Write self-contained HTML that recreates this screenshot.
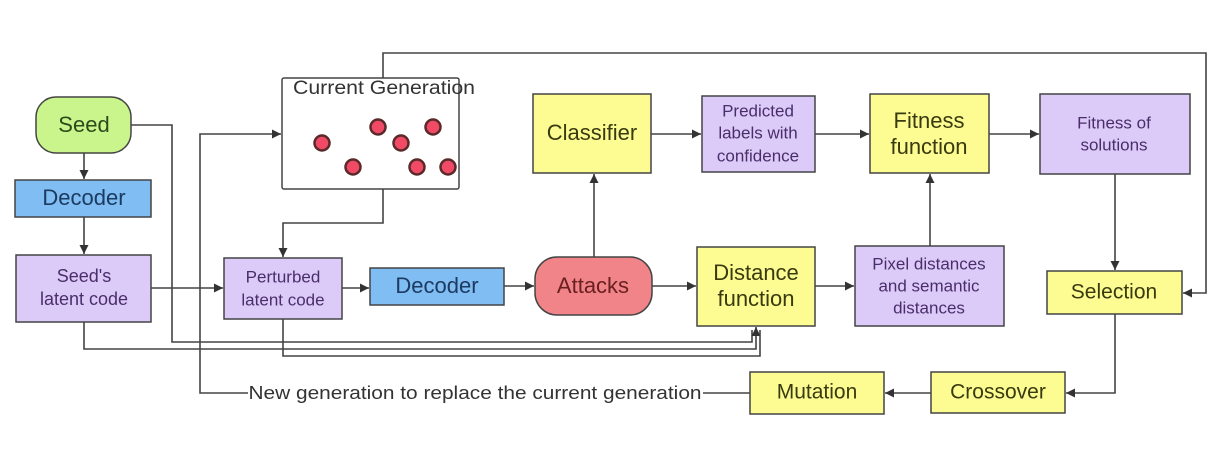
<!DOCTYPE html>
<html><head><meta charset="utf-8"><style>
html,body{margin:0;padding:0;background:#fff;}
svg{display:block;}
text{font-family:"Liberation Sans",sans-serif;text-anchor:middle;dominant-baseline:middle;}
</style></head><body>
<svg width="1225" height="473" viewBox="0 0 1225 473" xmlns="http://www.w3.org/2000/svg">
<defs>
<marker id="a" viewBox="0 0 10 10" refX="10" refY="5" markerWidth="9" markerHeight="9" orient="auto" markerUnits="userSpaceOnUse"><path d="M0,0 L10,5 L0,10 z" fill="#333"/></marker>
</defs>
<g fill="none" stroke="#444" stroke-width="1.6">
<polyline points="383,78 383,53 1206,53 1206,293 1183,293" marker-end="url(#a)"/>
<line x1="84" y1="153" x2="84" y2="179" marker-end="url(#a)"/>
<line x1="84" y1="217" x2="84" y2="254" marker-end="url(#a)"/>
<line x1="151" y1="288" x2="223" y2="288" marker-end="url(#a)"/>
<line x1="342" y1="288" x2="369" y2="288" marker-end="url(#a)"/>
<line x1="504" y1="286" x2="534" y2="286" marker-end="url(#a)"/>
<line x1="652" y1="286" x2="696" y2="286" marker-end="url(#a)"/>
<line x1="815" y1="286" x2="854" y2="286" marker-end="url(#a)"/>
<polyline points="383,189 383,223 283,223 283,257" marker-end="url(#a)"/>
<line x1="594" y1="257" x2="594" y2="174" marker-end="url(#a)"/>
<line x1="930" y1="246" x2="930" y2="174" marker-end="url(#a)"/>
<line x1="651" y1="134" x2="701" y2="134" marker-end="url(#a)"/>
<line x1="815" y1="134" x2="869" y2="134" marker-end="url(#a)"/>
<line x1="989" y1="134" x2="1039" y2="134" marker-end="url(#a)"/>
<line x1="1115" y1="174" x2="1115" y2="270" marker-end="url(#a)"/>
<polyline points="1115,314 1115,393 1066,393" marker-end="url(#a)"/>
<line x1="931" y1="393" x2="885" y2="393" marker-end="url(#a)"/>
<line x1="750" y1="393" x2="703" y2="393"/>
<polyline points="248,393 200,393 200,134 281,134" marker-end="url(#a)"/>
<polyline points="131,125 172,125 172,342 752,342 752,330"/>
<polyline points="84,322 84,349 756,349 756,327" marker-end="url(#a)"/>
<polyline points="283,319 283,356 760,356 760,330"/>
</g>
<g stroke="#444" stroke-width="1.5">
<rect x="36" y="97" width="95" height="56" rx="20" fill="#c9f58c"/>
<rect x="15" y="180" width="136" height="37" fill="#7fbdf3"/>
<rect x="16" y="255" width="135" height="67" fill="#dccbf8"/>
<rect x="282" y="78" width="177" height="111" fill="#fff" rx="2"/>
<rect x="224" y="258" width="118" height="61" fill="#dccbf8"/>
<rect x="370" y="268" width="134" height="37" fill="#7fbdf3"/>
<rect x="535" y="257" width="117" height="58" rx="22" fill="#f08488"/>
<rect x="533" y="94" width="118" height="79" fill="#fcfc92"/>
<rect x="702" y="96" width="113" height="76" fill="#dccbf8"/>
<rect x="870" y="94" width="119" height="79" fill="#fcfc92"/>
<rect x="1040" y="94" width="150" height="80" fill="#dccbf8"/>
<rect x="697" y="247" width="118" height="79" fill="#fcfc92"/>
<rect x="855" y="246" width="149" height="80" fill="#dccbf8"/>
<rect x="1047" y="271" width="135" height="43" fill="#fcfc92"/>
<rect x="931" y="372" width="134" height="41" fill="#fcfc92"/>
<rect x="750" y="372" width="134" height="42" fill="#fcfc92"/>
</g>
<g fill="#f04a66" stroke="#5a2a2a" stroke-width="2.5">
<circle cx="322" cy="143" r="7.5"/><circle cx="378" cy="127" r="7.5"/><circle cx="401" cy="143" r="7.5"/>
<circle cx="433" cy="127" r="7.5"/><circle cx="353" cy="167" r="7.5"/><circle cx="417" cy="167" r="7.5"/><circle cx="448" cy="167" r="7.5"/>
</g>
<g>
<text x="84" y="126" font-size="22" fill="#2f4a1a">Seed</text>
<text x="84" y="199" font-size="22" fill="#1d3a60">Decoder</text>
<text x="84" y="277" font-size="18" fill="#4a2e6a">Seed's</text>
<text x="84" y="300" font-size="18" fill="#4a2e6a">latent code</text>
<text x="384" y="89" font-size="19" fill="#333" textLength="182" lengthAdjust="spacingAndGlyphs">Current Generation</text>
<text x="283" y="278" font-size="17" fill="#4a2e6a">Perturbed</text>
<text x="283" y="301" font-size="17" fill="#4a2e6a">latent code</text>
<text x="437" y="287" font-size="22" fill="#1d3a60">Decoder</text>
<text x="593" y="287" font-size="22" fill="#6a2020">Attacks</text>
<text x="592" y="134" font-size="22" fill="#3a3a10">Classifier</text>
<text x="758" y="112" font-size="17" fill="#4a2e6a">Predicted</text>
<text x="758" y="134" font-size="17" fill="#4a2e6a">labels with</text>
<text x="758" y="157" font-size="17" fill="#4a2e6a">confidence</text>
<text x="929" y="122" font-size="22" fill="#3a3a10">Fitness</text>
<text x="929" y="148" font-size="22" fill="#3a3a10">function</text>
<text x="1114" y="124" font-size="17" fill="#4a2e6a">Fitness of</text>
<text x="1114" y="146" font-size="17" fill="#4a2e6a">solutions</text>
<text x="756" y="274" font-size="22" fill="#3a3a10">Distance</text>
<text x="756" y="300" font-size="22" fill="#3a3a10">function</text>
<text x="929" y="265" font-size="17" fill="#4a2e6a">Pixel distances</text>
<text x="929" y="287" font-size="17" fill="#4a2e6a">and semantic</text>
<text x="929" y="309" font-size="17" fill="#4a2e6a">distances</text>
<text x="1114" y="293" font-size="21" fill="#3a3a10">Selection</text>
<text x="998" y="393" font-size="21" fill="#3a3a10">Crossover</text>
<text x="817" y="393" font-size="21" fill="#3a3a10">Mutation</text>
<text x="475" y="394" font-size="18" fill="#333" textLength="453" lengthAdjust="spacingAndGlyphs">New generation to replace the current generation</text>
</g>
</svg>
</body></html>
